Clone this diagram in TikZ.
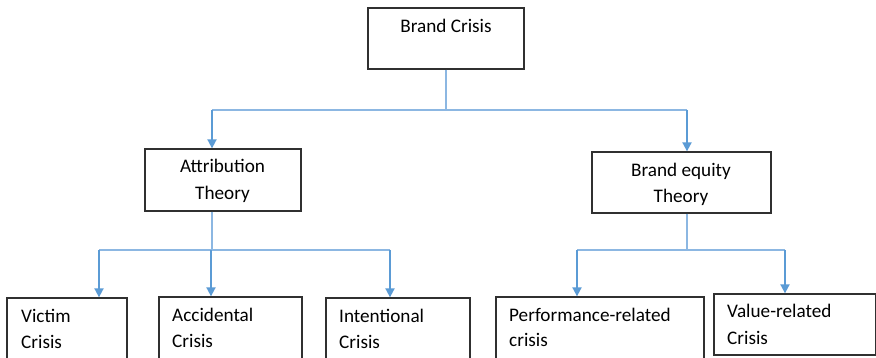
\documentclass[tikz,border=0pt]{standalone}
\usepackage{fontspec}
\setmainfont{Carlito}
\usetikzlibrary{arrows.meta}
\definecolor{boxline}{HTML}{303030}
\definecolor{linkblue}{HTML}{5B9BD5}
\definecolor{trunkblue}{HTML}{8CB7E2}
\tikzset{
  box/.style={draw=boxline, line width=1.3pt, rectangle, inner sep=0pt},
  txt/.style={inner sep=0pt, font=\fontsize{19.2pt}{26pt}\selectfont, align=left},
  ctxt/.style={txt, anchor=base},
  ltxt/.style={txt, anchor=base west},
  trunk/.style={draw=trunkblue, line width=1.6pt},
  branch/.style={draw=linkblue, line width=1.8pt, -{Triangle[width=9pt,length=9pt]}},
}
\begin{document}
\begin{tikzpicture}[x=1pt, y=-1pt]
\clip (0,0) rectangle (876,358);
\fill[white] (0,0) rectangle (876,358);

% boxes
\node[box, minimum width=156pt, minimum height=61pt] (bc)   at (446,38.5)  {};
\node[box, minimum width=156pt, minimum height=62pt] (attr) at (223,180)   {};
\node[box, minimum width=179pt, minimum height=61pt] (beq)  at (681.5,182.5) {};
\node[box, minimum width=120pt, minimum height=77pt] (vic)  at (67,336.5)  {};
\node[box, minimum width=143pt, minimum height=78pt] (acc)  at (230.5,336) {};
\node[box, minimum width=144pt, minimum height=77pt] (int)  at (398,336.5) {};
\node[box, minimum width=208pt, minimum height=78pt] (perf) at (600,336)   {};
\node[box, minimum width=162pt, minimum height=61pt] (val)  at (795,324.5) {};

% labels
\node[ctxt] (bct)   at (446,33)    {Brand Crisis};
\node[ctxt] (attrt) at (222.5,173) {Attribution};
\node[ctxt] (attrb) at (222.5,200) {Theory};
\node[ctxt] (beqt)  at (681,176.5) {Brand equity};
\node[ctxt] (beqb)  at (681,202.5) {Theory};
\node[ltxt] (vict)  at (21,322.5)  {Victim};
\node[ltxt] (vicb)  at (21,348)    {Crisis};
\node[ltxt] (acct)  at (172,321.5) {Accidental};
\node[ltxt] (accb)  at (172,347.5) {Crisis};
\node[ltxt] (intt)  at (339,322.5) {Intentional};
\node[ltxt] (intb)  at (339,348)   {Crisis};
\node[ltxt] (perft) at (509,321)   {Performance-related};
\node[ltxt] (perfb) at (509,346.5) {crisis};
\node[ltxt] (valt)  at (727,317.5) {Value-related};
\node[ltxt] (valb)  at (727,344)   {Crisis};

% arrow entry points on the box tops
\coordinate (attrin) at ([xshift=-11pt]attr.north);
\coordinate (beqin)  at ([xshift=5.5pt]beq.north);
\coordinate (vicin)  at ([xshift=32pt]vic.north);
\coordinate (accin)  at ([xshift=-19.5pt]acc.north);
\coordinate (intin)  at ([xshift=-8pt]int.north);
\coordinate (perfin) at ([xshift=-23pt]perf.north);
\coordinate (valin)  at ([xshift=-10pt]val.north);

% bar heights
\coordinate (bar0) at (446,110);
\coordinate (bar1) at (212,250);
\coordinate (bar2) at (687,250);

% first level
\draw[trunk] (bc.south -| bar0) -- (bar0);
\draw[trunk] (attrin |- bar0) -- (beqin |- bar0);
\draw[branch] (attrin |- bar0) -- (attrin);
\draw[branch] (beqin |- bar0) -- (beqin);

% attribution branches
\draw[trunk] (attr.south -| bar1) -- (bar1);
\draw[trunk] (vicin |- bar1) -- (intin |- bar1);
\draw[branch] (vicin |- bar1) -- (vicin);
\draw[branch] (accin |- bar1) -- (accin);
\draw[branch] (intin |- bar1) -- (intin);

% brand equity branches
\draw[trunk] (beq.south -| bar2) -- (bar2);
\draw[trunk] (perfin |- bar2) -- (valin |- bar2);
\draw[branch] (perfin |- bar2) -- (perfin);
\draw[branch] (valin |- bar2) -- (valin);
\end{tikzpicture}
\end{document}
